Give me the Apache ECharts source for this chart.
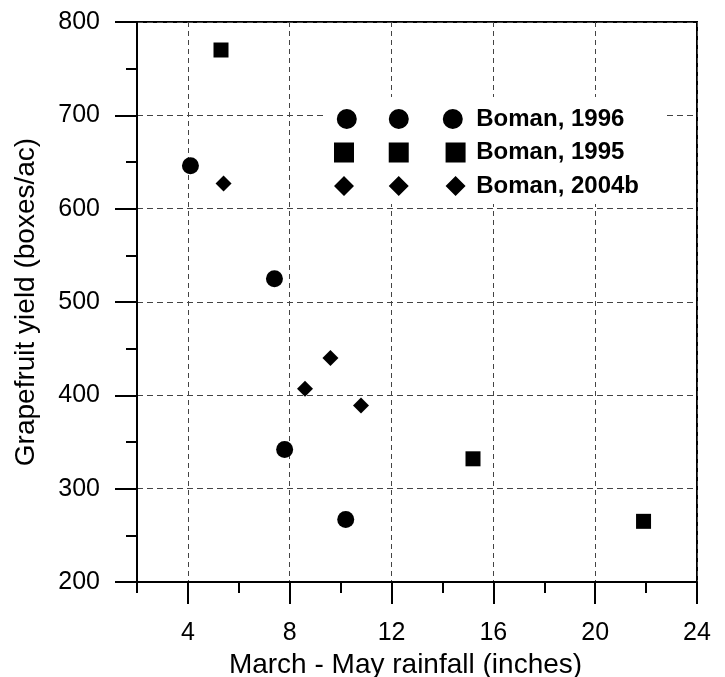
<!DOCTYPE html>
<html>
<head>
<meta charset="utf-8">
<script src="https://cdn.jsdelivr.net/npm/echarts@6/dist/echarts.min.js"></script>
<style>
  html, body { margin: 0; padding: 0; background: #fff; }
  #chart { width: 725px; height: 677px; }
</style>
</head>
<body>
<div id="chart"></div>
<script>
// rainfall (inches), yield (boxes/ac)
const boman1996 = [[4.1, 646], [7.4, 525], [7.8, 342], [10.2, 267]];
const boman1995 = [[5.3, 770], [15.2, 332], [21.9, 265]];
const boman2004b = [[5.4, 627], [8.6, 407], [9.6, 440], [10.8, 389]];

const xMajorTicks = [4, 8, 12, 16, 20, 24];
const xMinorTicks = [2, 6, 10, 14, 18, 22];

const seriesNames = ["Boman, 1996", "Boman, 1995", "Boman, 2004b"];

// legend icons: three symbols in a row
const iconCircles = "path://M0,10a10,10 0 1,0 20,0a10,10 0 1,0 -20,0Z" +
  "M52,10a10,10 0 1,0 20,0a10,10 0 1,0 -20,0Z" +
  "M106,10a10,10 0 1,0 20,0a10,10 0 1,0 -20,0Z";
const iconSquares = "path://M0.5,0.5h19v19h-19Z M52.5,0.5h19v19h-19Z M106.5,0.5h19v19h-19Z";
const iconDiamonds = "path://M0.5,10L10,0.5L19.5,10L10,19.5Z M52.5,10L62,0.5L71.5,10L62,19.5Z M106.5,10L116,0.5L125.5,10L116,19.5Z";

const font = "Liberation Sans, Arial, sans-serif";

const chart = echarts.init(document.getElementById("chart"));

chart.setOption({
  backgroundColor: "#fff",
  animation: false,
  grid: {
    left: 137,
    top: 22,
    width: 560,
    height: 560,
    show: true,
    borderColor: "#000",
    borderWidth: 2,
    containLabel: false,
    outerBoundsMode: "none"
  },
  legend: {
    orient: "vertical",
    left: 325,
    top: 97,
    padding: [10, 24, 6, 9],
    backgroundColor: "#fff",
    itemWidth: 143,
    itemHeight: 20,
    itemGap: 9.5,
    symbolKeepAspect: true,
    textStyle: { color: "#000", fontFamily: font, fontSize: 24, fontWeight: "bold" },
    data: [
      { name: seriesNames[0], icon: iconCircles },
      { name: seriesNames[1], icon: iconSquares },
      { name: seriesNames[2], icon: iconDiamonds }
    ]
  },
  xAxis: [
    {
      type: "value",
      min: 2,
      max: 24,
      position: "bottom",
      name: "March - May rainfall (inches)",
      nameLocation: "middle",
      nameGap: 56,
      nameTextStyle: { color: "#000", fontFamily: font, fontSize: 28, padding: [0, 23, 0, 0] },
      axisLine: { show: true, lineStyle: { color: "#000", width: 2 } },
      axisTick: { show: true, length: 22, customValues: xMajorTicks, lineStyle: { color: "#000", width: 2 } },
      axisLabel: { color: "#000", fontFamily: font, fontSize: 25, margin: 39, customValues: xMajorTicks },
      splitLine: { show: true, lineStyle: { color: "#444", width: 1, type: [5, 4] } }
    },
    {
      type: "value",
      min: 2,
      max: 24,
      position: "bottom",
      axisLine: { show: false },
      axisTick: { show: true, length: 11, customValues: xMinorTicks, lineStyle: { color: "#000", width: 2 } },
      axisLabel: { show: false },
      splitLine: { show: false }
    }
  ],
  yAxis: {
    type: "value",
    min: 200,
    max: 800,
    interval: 100,
    name: "Grapefruit yield (boxes/ac)",
    nameLocation: "middle",
    nameGap: 97,
    nameTextStyle: { color: "#000", fontFamily: font, fontSize: 28 },
    axisLine: { show: true, lineStyle: { color: "#000", width: 2 } },
    axisTick: { show: true, length: 22, lineStyle: { color: "#000", width: 2 } },
    minorTick: { show: true, splitNumber: 2, length: 11, lineStyle: { color: "#000", width: 2 } },
    axisLabel: { color: "#000", fontFamily: font, fontSize: 25, margin: 37 },
    splitLine: { show: true, lineStyle: { color: "#444", width: 1, type: [6, 4] } }
  },
  series: [
    {
      name: seriesNames[0],
      type: "scatter",
      symbol: "circle",
      symbolSize: 17,
      itemStyle: { color: "#000", opacity: 1 },
      data: boman1996
    },
    {
      name: seriesNames[1],
      type: "scatter",
      symbol: "rect",
      symbolSize: 15,
      itemStyle: { color: "#000", opacity: 1 },
      data: boman1995
    },
    {
      name: seriesNames[2],
      type: "scatter",
      symbol: "diamond",
      symbolSize: 16,
      itemStyle: { color: "#000", opacity: 1 },
      data: boman2004b
    }
  ]
});
</script>
</body>
</html>
